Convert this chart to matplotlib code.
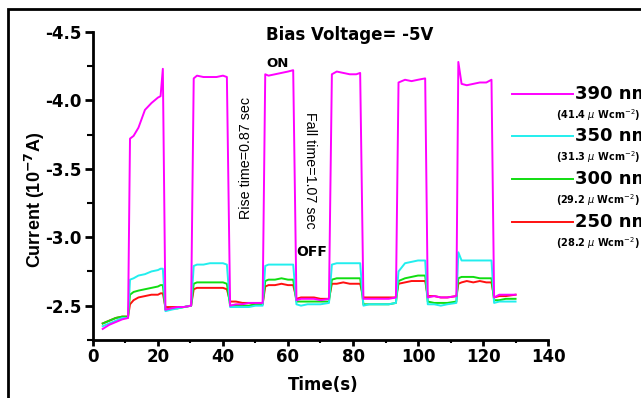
import matplotlib
matplotlib.use("Agg")
import matplotlib.pyplot as plt
from matplotlib.ticker import MultipleLocator
from matplotlib.lines import Line2D
from matplotlib.patches import Rectangle

plt.rcParams['font.family']=['DejaVu Sans']

# time axis (s), shared by all four curves
time_s=[3,5,7,9,10.8,11.4,12.5,14,16,18,20,20.8,21.5,22.3,24,26,28,30.2,
        31,32,34,36,38,40,41.2,42.2,44,46,48,50,52.2,53,54,56,58,60,61.6,
        62.6,64,66,68,70,72.6,73.5,75,77,79,81,82.2,83.2,85,87,89,91,93.2,
        94,96,98,100,102.2,103,105,107,109,111.8,112.4,113.4,115,117,119,
        121,122.6,123.4,125,127,130]

# current (1e-7 A)
cur_390=[-2.33,-2.36,-2.38,-2.40,-2.41,-3.72,-3.74,-3.80,-3.93,-3.98,-4.02,
         -4.03,-4.23,-2.47,-2.48,-2.49,-2.49,-2.50,-4.16,-4.18,-4.17,-4.17,
         -4.17,-4.18,-4.17,-2.50,-2.51,-2.51,-2.52,-2.52,-2.52,-4.19,-4.18,
         -4.19,-4.20,-4.21,-4.22,-2.54,-2.55,-2.55,-2.55,-2.54,-2.55,-4.19,
         -4.21,-4.20,-4.19,-4.19,-4.20,-2.55,-2.55,-2.55,-2.55,-2.55,-2.56,
         -4.13,-4.15,-4.14,-4.15,-4.16,-2.56,-2.57,-2.56,-2.56,-2.57,-4.28,
         -4.12,-4.11,-4.12,-4.13,-4.13,-4.15,-2.56,-2.58,-2.58,-2.58]

cur_350=[-2.35,-2.37,-2.39,-2.41,-2.41,-2.69,-2.70,-2.72,-2.73,-2.75,-2.76,
         -2.77,-2.77,-2.46,-2.47,-2.48,-2.49,-2.50,-2.79,-2.80,-2.80,-2.81,
         -2.81,-2.81,-2.80,-2.49,-2.49,-2.49,-2.49,-2.50,-2.50,-2.79,-2.80,
         -2.80,-2.80,-2.80,-2.80,-2.51,-2.50,-2.51,-2.51,-2.51,-2.52,-2.80,
         -2.81,-2.81,-2.81,-2.81,-2.81,-2.50,-2.51,-2.51,-2.51,-2.51,-2.52,
         -2.75,-2.81,-2.82,-2.83,-2.83,-2.51,-2.51,-2.50,-2.51,-2.52,-2.89,
         -2.83,-2.83,-2.83,-2.83,-2.83,-2.83,-2.52,-2.53,-2.53,-2.53]

cur_300=[-2.37,-2.39,-2.41,-2.42,-2.42,-2.58,-2.60,-2.61,-2.62,-2.63,-2.64,
         -2.65,-2.65,-2.47,-2.48,-2.48,-2.49,-2.50,-2.66,-2.67,-2.67,-2.67,
         -2.67,-2.67,-2.66,-2.50,-2.50,-2.50,-2.50,-2.51,-2.51,-2.68,-2.69,
         -2.69,-2.70,-2.69,-2.69,-2.53,-2.53,-2.53,-2.53,-2.53,-2.53,-2.69,
         -2.70,-2.70,-2.70,-2.70,-2.70,-2.51,-2.51,-2.51,-2.51,-2.51,-2.52,
         -2.68,-2.70,-2.71,-2.72,-2.72,-2.53,-2.52,-2.52,-2.52,-2.53,-2.70,
         -2.71,-2.71,-2.71,-2.70,-2.70,-2.70,-2.54,-2.54,-2.55,-2.55]

cur_250=[-2.37,-2.39,-2.41,-2.42,-2.42,-2.51,-2.54,-2.56,-2.57,-2.58,-2.58,
         -2.59,-2.59,-2.49,-2.49,-2.49,-2.49,-2.50,-2.62,-2.63,-2.63,-2.63,
         -2.63,-2.63,-2.62,-2.53,-2.53,-2.52,-2.52,-2.51,-2.51,-2.64,-2.65,
         -2.65,-2.66,-2.65,-2.65,-2.55,-2.56,-2.56,-2.56,-2.55,-2.55,-2.66,
         -2.66,-2.67,-2.66,-2.66,-2.66,-2.56,-2.56,-2.56,-2.56,-2.56,-2.56,
         -2.66,-2.67,-2.68,-2.68,-2.68,-2.57,-2.57,-2.56,-2.56,-2.57,-2.66,
         -2.67,-2.68,-2.67,-2.68,-2.67,-2.67,-2.56,-2.57,-2.57,-2.58]

wavelengths=["390 nm","350 nm","300 nm","250 nm"]
intensities=["(41.4 $\\mu$ Wcm$^{-2}$)","(31.3 $\\mu$ Wcm$^{-2}$)",
             "(29.2 $\\mu$ Wcm$^{-2}$)","(28.2 $\\mu$ Wcm$^{-2}$)"]
colors=["#ff00ff","#22eeee","#11dd11","#ff1010"]

fig=plt.figure(figsize=(6.41,3.98),dpi=100)
ax=fig.add_axes([0.145,0.146,0.710,0.774])

# draw red first so magenta sits on top
series=[cur_390,cur_350,cur_300,cur_250]
for vals,c in reversed(list(zip(series,colors))):
    ax.plot(time_s,vals,color=c,lw=1.4)

ax.set_xlim(0,140)
ax.set_ylim(-2.25,-4.5)

ax.spines['top'].set_visible(False)
ax.spines['right'].set_visible(False)
ax.spines['left'].set_linewidth(2)
ax.spines['bottom'].set_linewidth(2)

ax.xaxis.set_major_locator(MultipleLocator(20))
ax.xaxis.set_minor_locator(MultipleLocator(10))
ax.yaxis.set_minor_locator(MultipleLocator(0.25))
ax.set_yticks([-4.5,-4.0,-3.5,-3.0,-2.5])
ax.set_yticklabels(["-4.5","-4.0","-3.5","-3.0","-2.5"])
ax.tick_params(axis='x',which='major',direction='out',length=4,width=2,
               labelsize=12,pad=2)
ax.tick_params(axis='y',which='major',direction='out',length=6,width=2,
               labelsize=12,pad=2)
ax.tick_params(axis='x',which='minor',direction='out',length=2.5,width=1.5)
ax.tick_params(axis='y',which='minor',direction='out',length=4,width=1.5)
for lab in ax.get_xticklabels()+ax.get_yticklabels():
    lab.set_fontweight('bold')

ax.set_xlabel("Time(s)",fontsize=12,fontweight='bold')
ax.xaxis.set_label_coords(0.505,-0.146)
ax.xaxis.label.set_va('center')
ax.set_ylabel("Current (10$^{\\mathbf{-7}}$A)",fontsize=13,
              fontweight='bold',family='Liberation Sans')
ax.yaxis.set_label_coords(-0.127,0.455)
ax.yaxis.label.set_va('center')

fig.text(0.546,0.912,"Bias Voltage= -5V",ha='center',va='center',
         fontsize=12,fontweight='bold')

ax.text(56.9,-4.27,"ON",ha='center',va='center',fontsize=9.5,
        fontweight='bold')
ax.text(67.4,-2.89,"OFF",ha='center',va='center',fontsize=10,
        fontweight='bold')
ax.text(47.1,-3.58,"Rise time=0.87 sec",rotation=90,ha='center',
        va='center',fontsize=10.3,family='Liberation Sans')
ax.text(66.8,-3.49,"Fall time=1.07 sec",rotation=-90,ha='center',
        va='center',fontsize=10.3,family='Liberation Sans')

# legend drawn by hand to the right of the axes
leg_y=[94,136,179,222]
for name,sub,c,py in zip(wavelengths,intensities,colors,leg_y):
    yf=1-py/398
    fig.add_artist(Line2D([512/641,573/641],[yf,yf],color=c,lw=1.4))
    fig.text(575/641,yf,name,ha='left',va='center',fontsize=13,
             fontweight='bold')
    fig.text(556/641,yf-21/398,sub,ha='left',va='center',fontsize=7,
             fontweight='bold')

# frame around the whole figure
fig.add_artist(Rectangle((8/641,-0.1),1.2,1.1-9/398,fill=False,
                         edgecolor='black',lw=2,transform=fig.transFigure))

fig.savefig("out.png",dpi=100)
